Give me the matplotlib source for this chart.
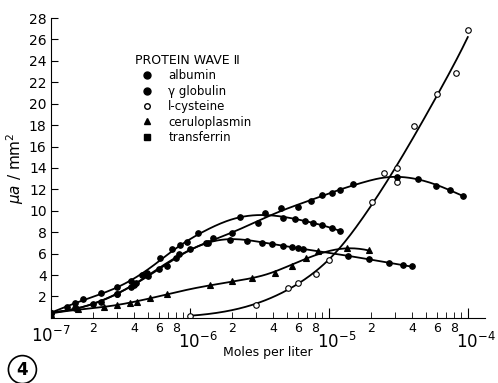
import matplotlib.pyplot as plt
import matplotlib.transforms as mtransforms
import numpy as np
from matplotlib.lines import Line2D

# values (concentration in mol/L, current in ua/mm^2)
alb_x = [1.0e-7, 1.3e-7, 1.5e-7, 1.7e-7, 2.3e-7, 3.0e-7, 3.8e-7, 4.5e-7, 4.9e-7,
         6.1e-7, 7.4e-7, 8.5e-7, 9.6e-7, 1.15e-6, 2.3e-6, 3.5e-6, 4.7e-6, 5.7e-6,
         6.7e-6, 7.7e-6, 8.9e-6, 1.05e-5, 1.2e-5]
alb_y = [0.5, 1.0, 1.4, 1.8, 2.3, 2.9, 3.4, 4.0, 4.2, 5.6, 6.4, 6.8, 7.1, 7.9,
         9.4, 9.8, 9.3, 9.2, 9.0, 8.9, 8.7, 8.4, 8.1]

glob_x = [1.0e-7, 1.5e-7, 2.3e-7, 3.0e-7, 3.8e-7, 4.1e-7, 5.0e-7, 6.8e-7, 8.0e-7,
          1.0e-6, 1.35e-6, 1.46e-6, 1.95e-6, 2.6e-6, 3.3e-6, 3.9e-6, 4.7e-6,
          5.4e-6, 6.0e-6, 6.5e-6, 1.37e-5, 1.94e-5, 2.7e-5, 3.4e-5, 4.0e-5]
glob_y = [0.5, 0.9, 1.5, 2.2, 2.9, 3.3, 3.9, 4.8, 5.6, 6.4, 7.0, 7.5, 7.3, 7.2,
          7.0, 6.9, 6.7, 6.6, 6.5, 6.4, 5.8, 5.5, 5.1, 4.9, 4.8]

cys_x = [1.0e-6, 3.0e-6, 5.1e-6, 6.0e-6, 8.1e-6, 1.0e-5, 2.04e-5, 2.5e-5, 3.1e-5,
         3.1e-5, 4.1e-5, 6.0e-5, 8.2e-5, 1.0e-4]
cys_y = [0.2, 1.2, 2.8, 3.3, 4.1, 5.4, 10.8, 13.5, 14.0, 12.7, 17.9, 20.9, 22.9, 26.9]

cer_x = [1.0e-7, 1.56e-7, 2.4e-7, 3.0e-7, 3.7e-7, 4.2e-7, 5.2e-7, 6.8e-7, 1.4e-6,
         2.0e-6, 2.8e-6, 4.1e-6, 5.4e-6, 6.9e-6, 8.3e-6, 1.35e-5, 1.94e-5]
cer_y = [0.4, 0.85, 1.0, 1.2, 1.4, 1.5, 1.9, 2.2, 3.1, 3.4, 3.7, 4.2, 4.8, 5.6,
         6.2, 6.5, 6.3]

trf_x = [1.0e-7, 2.0e-7, 3.0e-7, 4.0e-7, 6.0e-7, 8.4e-7, 1.3e-6, 2.0e-6, 3.1e-6,
         4.5e-6, 6.0e-6, 7.5e-6, 9.0e-6, 1.05e-5, 1.2e-5, 1.5e-5, 3.1e-5, 4.4e-5,
         5.9e-5, 7.5e-5, 9.2e-5]
trf_y = [0.5, 1.3, 2.2, 3.1, 4.6, 6.0, 7.0, 7.9, 8.9, 10.3, 10.4, 10.9, 11.5,
         11.7, 11.9, 12.5, 13.2, 13.0, 12.3, 11.9, 11.4]

legend_title = "PROTEIN WAVE Ⅱ"
legend_labels = ["albumin", "γ globulin", "l-cysteine", "ceruloplasmin", "transferrin"]


def smooth_curve(ax, x, y, h=0.22, log_y=False):
    # hand-drawn style trend line: local quadratic fit in log concentration
    lx = np.log10(x)
    fy = np.log(y + 1) if log_y else y
    xs = np.linspace(lx.min(), lx.max(), 200)
    ys = []
    for t in xs:
        w = np.exp(-0.5 * ((lx - t) / h) ** 2)
        c = np.polyfit(lx - t, fy, 2, w=np.sqrt(w))
        ys.append(c[-1])
    ys = np.array(ys)
    if log_y:
        ys = np.exp(ys) - 1
    ax.plot(10 ** xs, ys, color="black", lw=1.3)


fig = plt.figure(figsize=(4.98, 3.83), dpi=100)
ax = fig.add_axes([0.102, 0.170, 0.871, 0.783])

series = [
    (alb_x, alb_y, dict(marker="o", mfc="black"), False),
    (glob_x, glob_y, dict(marker="o", mfc="black"), False),
    (cys_x, cys_y, dict(marker="o", mfc="white"), True),
    (cer_x, cer_y, dict(marker="^", mfc="black"), False),
    (trf_x, trf_y, dict(marker="o", mfc="black"), False),
]
for x, y, style, log_y in series:
    x = np.array(x)
    y = np.array(y)
    smooth_curve(ax, x, y, h=0.28 if log_y else 0.22, log_y=log_y)
    ax.plot(x, y, ls="none", mec="black", ms=4, mew=0.8, **style)

ax.set_xscale("log")
ax.set_xlim(1e-7, 1.32e-4)
ax.set_ylim(0, 28)

for s in ["top", "right"]:
    ax.spines[s].set_visible(False)

ax.set_yticks(np.arange(2, 29, 2))
ax.set_yticklabels([str(v) for v in range(2, 29, 2)], fontsize=10)
ax.tick_params(axis="y", direction="in", length=5, pad=3)

majors = [1e-7, 1e-6, 1e-5, 1e-4]
ax.set_xticks(majors)
ax.set_xticklabels([r"$10^{-7}$", r"$10^{-6}$", r"$10^{-5}$", r"$10^{-4}$"], fontsize=12)
minors = [m * d for d in [1e-7, 1e-6, 1e-5] for m in range(2, 10)]
minor_labels = [str(m) if m in (2, 4, 6, 8) else "" for d in range(3) for m in range(2, 10)]
ax.set_xticks(minors, minor=True)
ax.set_xticklabels(minor_labels, minor=True, fontsize=9)
ax.tick_params(axis="x", which="major", direction="in", length=7, pad=4)
ax.tick_params(axis="x", which="minor", direction="in", length=4, pad=3)

# the printed decade labels sit lower and a bit right of their ticks
for i, lab in enumerate(ax.get_xticklabels()):
    dx, dy = (0, -2 / 72) if i == 0 else (6 / 72, -6 / 72)
    lab.set_transform(lab.get_transform()
                      + mtransforms.ScaledTranslation(dx, dy, fig.dpi_scale_trans))

ax.set_xlabel("Moles per liter", fontsize=9)
ax.xaxis.set_label_coords(0.5, -0.095)
ax.set_ylabel(r"$\mu a$ / mm$^2$", fontsize=11, labelpad=2)

handles = [
    Line2D([], [], ls="none", marker="o", mfc="black", mec="black", ms=5),
    Line2D([], [], ls="none", marker="o", mfc="black", mec="black", ms=5),
    Line2D([], [], ls="none", marker="o", mfc="white", mec="black", ms=4),
    Line2D([], [], ls="none", marker="^", mfc="black", mec="black", ms=5),
    Line2D([], [], ls="none", marker="s", mfc="black", mec="black", ms=5),
]
leg = ax.legend(handles, legend_labels, title=legend_title, frameon=False,
                loc="upper left", bbox_to_anchor=(0.17, 0.915), fontsize=8.5,
                title_fontsize=9, handletextpad=0.8, labelspacing=0.2,
                alignment="left")

fig.text(0.045, 0.035, "4", fontsize=12, fontweight="bold", ha="center", va="center",
         bbox=dict(boxstyle="circle,pad=0.3", fc="white", ec="black", lw=1.2))

fig.savefig("out.png", dpi=100)
